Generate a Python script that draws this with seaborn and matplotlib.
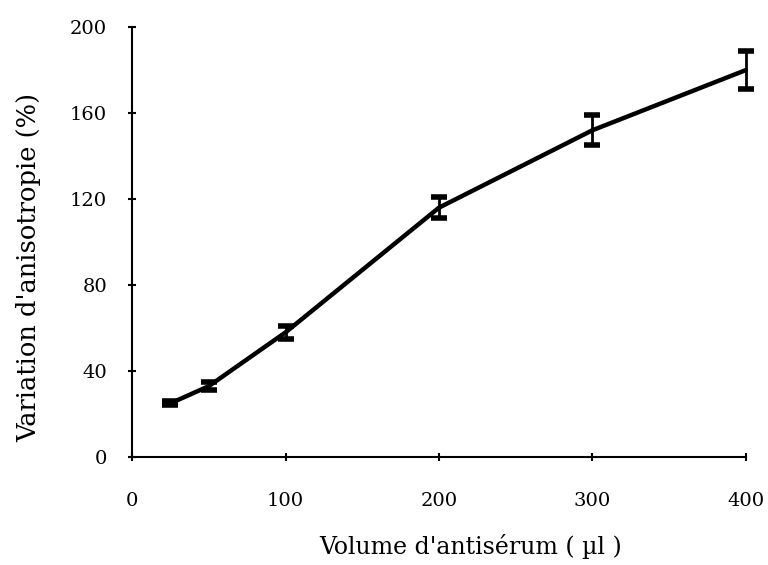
import matplotlib
matplotlib.use("Agg")
import matplotlib.pyplot as plt
import seaborn as sns
import pandas as pd

volume = [25, 50, 100, 200, 300, 400]
variation = [25, 33, 58, 116, 152, 180]
error = [1, 2, 3, 5, 7, 9]
x_ticks = [0, 100, 200, 300, 400]
y_ticks = [0, 40, 80, 120, 160, 200]

df = pd.DataFrame({"volume": volume, "variation": variation, "error": error})

sns.set_theme(style="ticks")
plt.rcParams['font.family'] = ['DejaVu Serif']

fig = plt.figure(figsize=(7.68, 5.65), dpi=100)
ax = fig.add_axes([0.172, 0.191, 0.799, 0.761])

sns.lineplot(data=df, x="volume", y="variation", color="black", linewidth=3.2, ax=ax)
ax.errorbar(df["volume"], df["variation"], yerr=df["error"], fmt="none",
            ecolor="black", elinewidth=2, capsize=6, capthick=4)
for artist in ax.get_children():
    try:
        artist.set_clip_on(False)
    except Exception:
        pass

ax.set_xlim(0, 400)
ax.set_ylim(0, 200)
ax.set_xticks(x_ticks)
ax.set_yticks(y_ticks)
ax.tick_params(axis="both", labelsize=14, direction="inout", length=6, width=1.5, colors="black")
ax.tick_params(axis="x", pad=22)
ax.tick_params(axis="y", pad=15)
for s in ["top", "right"]:
    ax.spines[s].set_visible(False)
for s in ["left", "bottom"]:
    ax.spines[s].set_linewidth(1.5)
    ax.spines[s].set_color("black")

ax.set_xlabel("Volume d'antisérum ( µl )", fontsize=17, color="black")
ax.set_ylabel("Variation d'anisotropie (%)", fontsize=18.5, color="black")
ax.xaxis.label.set_va("center")
ax.yaxis.label.set_va("center")
ax.xaxis.set_label_coords(0.552, -0.209)
ax.yaxis.set_label_coords(-0.169, 0.44)

fig.savefig("out.png", dpi=100)
